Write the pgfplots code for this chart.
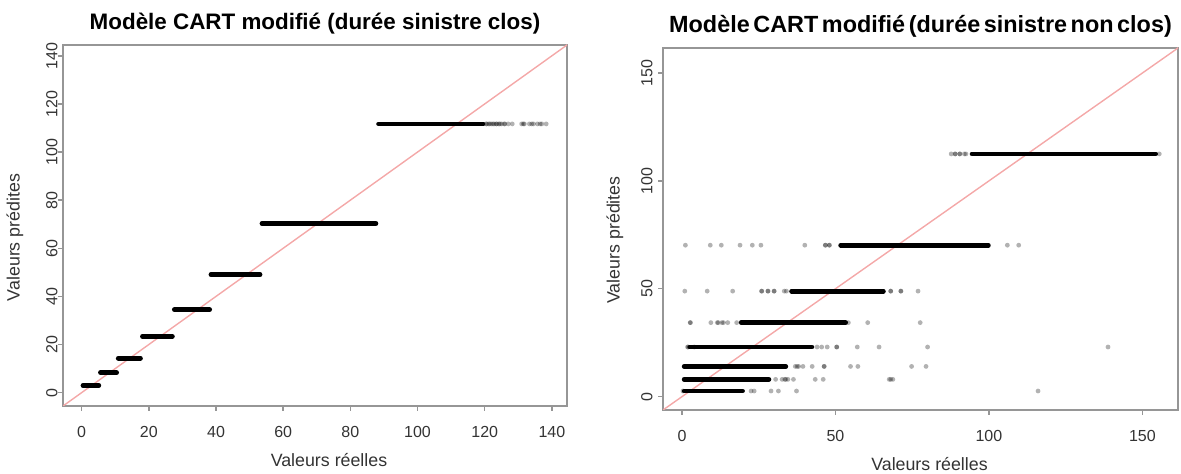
\documentclass[border=0pt]{standalone}
\usepackage{fontspec}
\setmainfont{Liberation Sans}
\usepackage{pgfplots}
\pgfplotsset{compat=1.18}
\definecolor{refline}{RGB}{244,168,168}
\definecolor{frame}{RGB}{150,150,150}
\pgfplotsset{
  rstyle/.style={
    scale only axis,
    /pgf/number format/assume math mode=true,
    axis line style={frame, line width=1.8pt},
    tick style={frame, line width=1.4pt},
    tick align=outside,
    major tick length=5pt,
    xtick pos=bottom, ytick pos=left,
    ticklabel style={font=\fontsize{16}{16}\selectfont, text=black!80},
    yticklabel style={rotate=90, anchor=south},
    xticklabel shift=12pt,
    label style={font=\fontsize{17.8}{17.8}\selectfont, text=black!80},
    title style={anchor=center},
    clip=true,
  },
  seg/.style={black, line width=4.8pt, line cap=round},
  dots/.style={only marks, mark=*, mark size=2.4pt, mark options={draw opacity=0, fill=black, fill opacity=0.3}},
}
\begin{document}
\begin{tikzpicture}[x=1pt,y=1pt]
\path (0,0) rectangle (1181,472);
% ---------------- left ----------------
\begin{axis}[rstyle,
  at={(63pt,66pt)}, anchor=south west,
  width=504pt, height=361pt,
  xmin=-5.56, xmax=144.5, ymin=-5.56, ymax=144.5,
  xtick={0,20,...,140}, ytick={0,20,...,140},
  yticklabel shift=-3pt,
  xlabel={Valeurs réelles}, ylabel={Valeurs prédites},
  xlabel style={at={([xshift=14pt,yshift=-54pt]axis description cs:0.5,0)}, anchor=center},
  ylabel style={at={([xshift=-48pt,yshift=-12pt]axis description cs:0,0.5)}, anchor=center},
  title={Modèle CART modifié (durée sinistre clos)},
  title style={font=\fontsize{22.4}{22.4}\selectfont\bfseries, at={([yshift=15pt]axis description cs:0.5,1)}},
]
\addplot[refline, line width=1.4pt] coordinates {(-10,-10) (200,200)};
\addplot[seg] coordinates {(0.4,3) (5.1,3)};
\addplot[seg] coordinates {(5.6,8.3) (10.4,8.3)};
\addplot[seg] coordinates {(10.9,14.3) (17.5,14.3)};
\addplot[seg] coordinates {(18.1,23.4) (27.0,23.4)};
\addplot[seg] coordinates {(27.6,34.5) (38.1,34.5)};
\addplot[seg] coordinates {(38.5,49) (53.1,49)};
\addplot[seg] coordinates {(53.7,70.3) (87.6,70.3)};
\addplot[seg] coordinates {(88.4,111.7) (119.5,111.7)};
\addplot[dots] coordinates {
(120.5,111.7)(121.2,111.7)(122,111.7)(122.8,111.7)(123.5,111.7)(124.2,111.7)(125,111.7)
(125.8,111.7)(127,111.7)(128.2,111.7)
(131,111.7)(131.8,111.7)(133.3,111.7)(134.5,111.7)(135.7,111.7)(137,111.7)(138.3,111.7)};
\addplot[dots] coordinates {
(120.5,111.7)(121.5,111.7)(122.5,111.7)(123.5,111.7)(124.5,111.7)(126,111.7)(131.5,111.7)(134,111.7)(136.5,111.7)};
\end{axis}
% ---------------- right ----------------
\begin{axis}[rstyle,
  at={(663pt,62pt)}, anchor=south west,
  width=515pt, height=362pt,
  xmin=-6.2, xmax=161.6, ymin=-6.2, ymax=161.6,
  xtick={0,50,100,150}, ytick={0,50,100,150},
  yticklabel shift=2pt,
  xlabel={Valeurs réelles}, ylabel={Valeurs prédites},
  xlabel style={at={([xshift=9pt,yshift=-54pt]axis description cs:0.5,0)}, anchor=center},
  ylabel style={at={([xshift=-48pt,yshift=-11pt]axis description cs:0,0.5)}, anchor=center},
  title={\spaceskip=3.6pt Modèle CART modifié (durée sinistre non clos)},
  title style={font=\fontsize{23.4}{23.4}\selectfont\bfseries, at={([yshift=16pt]axis description cs:0.5,1)}},
]
\addplot[refline, line width=1.4pt] coordinates {(-10,-10) (200,200)};
% dense segments
\addplot[seg] coordinates {(0.7,2.6) (19.7,2.6)};
\addplot[seg] coordinates {(0.7,8) (28.3,8)};
\addplot[seg] coordinates {(0.7,14) (33.8,14)};
\addplot[seg] coordinates {(2.5,23) (42.3,23)};
\addplot[seg] coordinates {(19.3,34.3) (53.3,34.3)};
\addplot[seg] coordinates {(35.7,48.9) (65.6,48.9)};
\addplot[seg] coordinates {(51.7,70.2) (99.8,70.2)};
\addplot[seg] coordinates {(94.5,112.5) (154.3,112.5)};
% sparse points
\addplot[dots] coordinates {
(22.5,2.6)(23.5,2.6)(29,2.6)(31.4,2.6)(37.3,2.6)(116,2.6)
(32.6,8)(33.5,8)(34.5,8)(36.3,8)(43.4,8)(46,8)(67.5,8)(68.7,8)
(36.9,14)(38,14)(39.4,14)(42.4,14)(46.3,14)(54.9,14)(57.3,14)(74.8,14)(79.5,14)
(1.8,23)(44,23)(45.5,23)(47.3,23)(50.4,23)(57.1,23)(64.2,23)(80,23)(138.8,23)
(2.7,34.3)(9.4,34.3)(11.5,34.3)(13,34.3)(14.9,34.3)(17.8,34.3)(54.2,34.3)(60.5,34.3)(77.6,34.3)
(0.9,48.9)(8.2,48.9)(16.5,48.9)(25.9,48.9)(28,48.9)(30,48.9)(33.3,48.9)(68,48.9)(71.3,48.9)(76.9,48.9)
(1.1,70.2)(9.2,70.2)(12.8,70.2)(18.9,70.2)(22.9,70.2)(25.7,70.2)(40,70.2)(46.7,70.2)(48,70.2)(106,70.2)(109.7,70.2)
(87.7,112.5)(89,112.5)(90.5,112.5)(92,112.5)(155.5,112.5)};
\addplot[dots] coordinates {
(0.3,2.6)(30.5,8)(33.8,8)(68,8)(37.5,14)(46.3,14)(2,23)(4,23)(50.4,23)
(2.7,34.3)(11.8,34.3)(13.5,34.3)(26,48.9)(28,48.9)(30,48.9)(34,48.9)(68,48.9)(71.3,48.9)
(46.7,70.2)(48,70.2)(89,112.5)(90.5,112.5)(92.5,112.5)};
\end{axis}
\end{tikzpicture}
\end{document}
